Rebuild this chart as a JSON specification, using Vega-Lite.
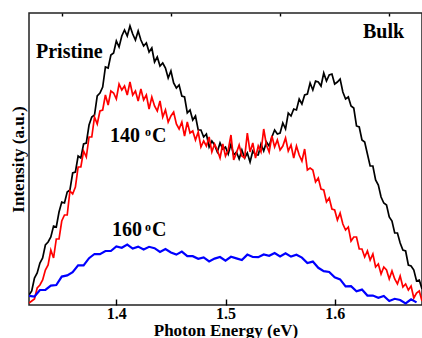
{
  "$schema": "https://vega.github.io/schema/vega-lite/v6.json",
  "width": 393,
  "height": 292,
  "autosize": {"type": "none"},
  "padding": {"left": 29, "top": 13, "right": 0, "bottom": 33},
  "background": "white",
  "config": {"view": {"stroke": "#222", "strokeWidth": 1.5}},
  "resolve": {"axis": {"x": "independent"}},
  "encoding": {
    "x": {"field": "x", "type": "quantitative",
      "scale": {"domain": [1.32, 1.68], "nice": false, "zero": false},
      "axis": {"values": [1.4, 1.5, 1.6], "format": ".1f", "zindex": 2, "offset": -6,
        "tickSize": 6, "tickColor": "#000", "tickWidth": 1.4, "domain": false, "grid": false,
        "labelFont": "'Liberation Serif', 'Times New Roman', serif", "labelFontWeight": "bold", "labelFontSize": 16, "labelColor": "#000", "labelPadding": 0,
        "title": "Photon Energy (eV)", "titleFont": "'Liberation Serif', 'Times New Roman', serif", "titleFontWeight": "bold", "titleFontSize": 17, "titleColor": "#000",
        "titleY": 36, "titleBaseline": "alphabetic"}},
    "y": {"field": "y", "type": "quantitative",
      "scale": {"domain": [0, 292], "nice": false, "zero": false},
      "axis": {"labels": false, "ticks": false, "domain": false, "grid": false,
        "title": "Intensity (a.u.)", "titleFont": "'Liberation Serif', 'Times New Roman', serif", "titleFontWeight": "bold", "titleFontSize": 17, "titleColor": "#000", "titlePadding": 2}}
  },
  "layer": [
    {"mark": {"type": "line", "color": "#000000", "strokeWidth": 1.7, "clip": true},
     "data": {"values": [
{"x":1.32,"y":10},{"x":1.3225,"y":14},{"x":1.325,"y":27},{"x":1.3275,"y":32},{"x":1.33,"y":42},{"x":1.3325,"y":47},{"x":1.335,"y":60},{"x":1.3375,"y":63},{"x":1.34,"y":68},{"x":1.3425,"y":79},
{"x":1.345,"y":78},{"x":1.3475,"y":93},{"x":1.35,"y":103},{"x":1.3525,"y":102},{"x":1.355,"y":113},{"x":1.3575,"y":115},{"x":1.36,"y":132},{"x":1.3625,"y":133},{"x":1.365,"y":149},{"x":1.3675,"y":147},
{"x":1.37,"y":161},{"x":1.3725,"y":162},{"x":1.375,"y":180},{"x":1.3775,"y":188},{"x":1.38,"y":190},{"x":1.3825,"y":209},{"x":1.385,"y":212},{"x":1.3875,"y":218},{"x":1.39,"y":238},{"x":1.3925,"y":237},
{"x":1.395,"y":250},{"x":1.3975,"y":252},{"x":1.4,"y":264},{"x":1.4025,"y":258},{"x":1.405,"y":269},{"x":1.4075,"y":275},{"x":1.41,"y":269},{"x":1.4125,"y":279},{"x":1.415,"y":271},{"x":1.4175,"y":265},
{"x":1.42,"y":274},{"x":1.4225,"y":265},{"x":1.425,"y":259},{"x":1.4275,"y":262},{"x":1.43,"y":253},{"x":1.4325,"y":257},{"x":1.435,"y":243},{"x":1.4375,"y":248},{"x":1.44,"y":239},{"x":1.4425,"y":242},
{"x":1.445,"y":237},{"x":1.4475,"y":227},{"x":1.45,"y":234},{"x":1.4525,"y":222},{"x":1.455,"y":217},{"x":1.4575,"y":220},{"x":1.46,"y":209},{"x":1.4625,"y":208},{"x":1.465,"y":192},{"x":1.4675,"y":195},
{"x":1.47,"y":185},{"x":1.4725,"y":189},{"x":1.475,"y":175},{"x":1.4775,"y":175},{"x":1.48,"y":168},{"x":1.4825,"y":171},{"x":1.485,"y":158},{"x":1.4875,"y":164},{"x":1.49,"y":160},{"x":1.4925,"y":153},
{"x":1.495,"y":162},{"x":1.4975,"y":156},{"x":1.5,"y":158},{"x":1.5025,"y":151},{"x":1.505,"y":161},{"x":1.5075,"y":150},{"x":1.51,"y":153},{"x":1.5125,"y":146},{"x":1.515,"y":155},{"x":1.5175,"y":147},
{"x":1.52,"y":152},{"x":1.5225,"y":143},{"x":1.525,"y":154},{"x":1.5275,"y":150},{"x":1.53,"y":150},{"x":1.5325,"y":161},{"x":1.535,"y":154},{"x":1.5375,"y":163},{"x":1.54,"y":159},{"x":1.5425,"y":168},
{"x":1.545,"y":175},{"x":1.5475,"y":171},{"x":1.55,"y":172},{"x":1.5525,"y":182},{"x":1.555,"y":176},{"x":1.5575,"y":192},{"x":1.56,"y":189},{"x":1.5625,"y":196},{"x":1.565,"y":195},{"x":1.5675,"y":206},
{"x":1.57,"y":201},{"x":1.5725,"y":210},{"x":1.575,"y":211},{"x":1.5775,"y":222},{"x":1.58,"y":215},{"x":1.5825,"y":224},{"x":1.585,"y":223},{"x":1.5875,"y":219},{"x":1.59,"y":232},{"x":1.5925,"y":224},
{"x":1.595,"y":230},{"x":1.5975,"y":231},{"x":1.6,"y":221},{"x":1.6025,"y":223},{"x":1.605,"y":226},{"x":1.6075,"y":213},{"x":1.61,"y":206},{"x":1.6125,"y":208},{"x":1.615,"y":199},{"x":1.6175,"y":197},
{"x":1.62,"y":179},{"x":1.6225,"y":178},{"x":1.625,"y":165},{"x":1.6275,"y":163},{"x":1.63,"y":151},{"x":1.6325,"y":139},{"x":1.635,"y":139},{"x":1.6375,"y":125},{"x":1.64,"y":120},{"x":1.6425,"y":108},
{"x":1.645,"y":102},{"x":1.6475,"y":100},{"x":1.65,"y":88},{"x":1.6525,"y":84},{"x":1.655,"y":72},{"x":1.6575,"y":72},{"x":1.66,"y":62},{"x":1.6625,"y":55},{"x":1.665,"y":54},{"x":1.6675,"y":40},
{"x":1.67,"y":39},{"x":1.6725,"y":35},{"x":1.675,"y":24},{"x":1.6775,"y":25},{"x":1.68,"y":16}
     ]}},
    {"mark": {"type": "line", "color": "#ff0000", "strokeWidth": 1.7, "clip": true},
     "encoding": {"x": {"field": "x", "type": "quantitative",
        "axis": {"values": [1.35, 1.45, 1.55, 1.65], "labels": false, "zindex": 2, "offset": -3, "tickSize": 3, "tickColor": "#000", "tickWidth": 1.4, "domain": false, "grid": false, "title": null}}},
     "data": {"values": [
{"x":1.32,"y":2},{"x":1.3225,"y":4},{"x":1.325,"y":6},{"x":1.3275,"y":17},{"x":1.33,"y":20},{"x":1.3325,"y":25},{"x":1.335,"y":35},{"x":1.3375,"y":40},{"x":1.34,"y":55},{"x":1.3425,"y":47},
{"x":1.345,"y":66},{"x":1.3475,"y":66},{"x":1.35,"y":84},{"x":1.3525,"y":90},{"x":1.355,"y":90},{"x":1.3575,"y":114},{"x":1.36,"y":111},{"x":1.3625,"y":118},{"x":1.365,"y":138},{"x":1.3675,"y":138},
{"x":1.37,"y":154},{"x":1.3725,"y":148},{"x":1.375,"y":168},{"x":1.3775,"y":168},{"x":1.38,"y":188},{"x":1.3825,"y":181},{"x":1.385,"y":194},{"x":1.3875,"y":195},{"x":1.39,"y":210},{"x":1.3925,"y":200},
{"x":1.395,"y":214},{"x":1.3975,"y":212},{"x":1.4,"y":206},{"x":1.4025,"y":221},{"x":1.405,"y":215},{"x":1.4075,"y":219},{"x":1.41,"y":210},{"x":1.4125,"y":223},{"x":1.415,"y":210},{"x":1.4175,"y":214},
{"x":1.42,"y":204},{"x":1.4225,"y":216},{"x":1.425,"y":205},{"x":1.4275,"y":210},{"x":1.43,"y":196},{"x":1.4325,"y":208},{"x":1.435,"y":199},{"x":1.4375,"y":194},{"x":1.44,"y":204},{"x":1.4425,"y":188},
{"x":1.445,"y":195},{"x":1.4475,"y":183},{"x":1.45,"y":189},{"x":1.4525,"y":193},{"x":1.455,"y":181},{"x":1.4575,"y":176},{"x":1.46,"y":183},{"x":1.4625,"y":169},{"x":1.465,"y":183},{"x":1.4675,"y":172},
{"x":1.47,"y":174},{"x":1.4725,"y":165},{"x":1.475,"y":173},{"x":1.4775,"y":158},{"x":1.48,"y":164},{"x":1.4825,"y":159},{"x":1.485,"y":168},{"x":1.4875,"y":153},{"x":1.49,"y":161},{"x":1.4925,"y":155},
{"x":1.495,"y":147},{"x":1.4975,"y":161},{"x":1.5,"y":149},{"x":1.5025,"y":155},{"x":1.505,"y":170},{"x":1.5075,"y":145},{"x":1.51,"y":152},{"x":1.5125,"y":160},{"x":1.515,"y":149},{"x":1.5175,"y":147},
{"x":1.52,"y":172},{"x":1.5225,"y":153},{"x":1.525,"y":162},{"x":1.5275,"y":147},{"x":1.53,"y":159},{"x":1.5325,"y":153},{"x":1.535,"y":176},{"x":1.5375,"y":160},{"x":1.54,"y":153},{"x":1.5425,"y":169},
{"x":1.545,"y":158},{"x":1.5475,"y":165},{"x":1.55,"y":155},{"x":1.5525,"y":159},{"x":1.555,"y":167},{"x":1.5575,"y":154},{"x":1.56,"y":160},{"x":1.5625,"y":147},{"x":1.565,"y":159},{"x":1.5675,"y":150},
{"x":1.57,"y":144},{"x":1.5725,"y":156},{"x":1.575,"y":135},{"x":1.5775,"y":137},{"x":1.58,"y":135},{"x":1.5825,"y":123},{"x":1.585,"y":127},{"x":1.5875,"y":116},{"x":1.59,"y":115},{"x":1.5925,"y":103},
{"x":1.595,"y":107},{"x":1.5975,"y":96},{"x":1.6,"y":95},{"x":1.6025,"y":85},{"x":1.605,"y":92},{"x":1.6075,"y":81},{"x":1.61,"y":75},{"x":1.6125,"y":78},{"x":1.615,"y":64},{"x":1.6175,"y":68},
{"x":1.62,"y":68},{"x":1.6225,"y":56},{"x":1.625,"y":56},{"x":1.6275,"y":48},{"x":1.63,"y":54},{"x":1.6325,"y":45},{"x":1.635,"y":51},{"x":1.6375,"y":38},{"x":1.64,"y":41},{"x":1.6425,"y":31},
{"x":1.645,"y":38},{"x":1.6475,"y":35},{"x":1.65,"y":26},{"x":1.6525,"y":34},{"x":1.655,"y":26},{"x":1.6575,"y":21},{"x":1.66,"y":29},{"x":1.6625,"y":18},{"x":1.665,"y":21},{"x":1.6675,"y":15},
{"x":1.67,"y":19},{"x":1.6725,"y":7},{"x":1.675,"y":12},{"x":1.6775,"y":14},{"x":1.68,"y":4}
     ]}},
    {"mark": {"type": "line", "color": "#0000ff", "strokeWidth": 2.2, "clip": true},
     "encoding": {"x": {"field": "x", "type": "quantitative", "axis": null}},
     "data": {"values": [
{"x":1.32,"y":9.2},{"x":1.325,"y":8.4},{"x":1.33,"y":15},{"x":1.335,"y":15.2},{"x":1.34,"y":19.4},{"x":1.345,"y":20},{"x":1.35,"y":28.4},{"x":1.355,"y":29.6},{"x":1.36,"y":32.8},{"x":1.365,"y":39.6},
{"x":1.37,"y":39.6},{"x":1.375,"y":46.8},{"x":1.38,"y":51},{"x":1.385,"y":50.8},{"x":1.39,"y":54},{"x":1.395,"y":54},{"x":1.4,"y":58.6},{"x":1.405,"y":57.2},{"x":1.41,"y":60.4},{"x":1.415,"y":56.4},
{"x":1.42,"y":58.4},{"x":1.425,"y":55.6},{"x":1.43,"y":58.2},{"x":1.435,"y":56.8},{"x":1.44,"y":53},{"x":1.445,"y":56},{"x":1.45,"y":52.6},{"x":1.455,"y":50.4},{"x":1.46,"y":53.4},{"x":1.465,"y":48.8},
{"x":1.47,"y":48.8},{"x":1.475,"y":46.2},{"x":1.48,"y":47.6},{"x":1.485,"y":43.6},{"x":1.49,"y":46.4},{"x":1.495,"y":48},{"x":1.5,"y":44.4},{"x":1.505,"y":48.2},{"x":1.51,"y":46.6},{"x":1.515,"y":45},
{"x":1.52,"y":50.4},{"x":1.525,"y":48},{"x":1.53,"y":47.8},{"x":1.535,"y":50.6},{"x":1.54,"y":49.2},{"x":1.545,"y":52},{"x":1.55,"y":48.6},{"x":1.555,"y":51.8},{"x":1.56,"y":48.4},{"x":1.565,"y":50.2},
{"x":1.57,"y":47.4},{"x":1.575,"y":42},{"x":1.58,"y":43.4},{"x":1.585,"y":37.2},{"x":1.59,"y":33.8},{"x":1.595,"y":33},{"x":1.6,"y":27.6},{"x":1.605,"y":25.6},{"x":1.61,"y":18.6},{"x":1.615,"y":18.8},
{"x":1.62,"y":13.8},{"x":1.625,"y":15.4},{"x":1.63,"y":9.4},{"x":1.635,"y":9.4},{"x":1.64,"y":7.2},{"x":1.645,"y":9},{"x":1.65,"y":4},{"x":1.655,"y":6.2},{"x":1.66,"y":5},{"x":1.665,"y":1.6},
{"x":1.67,"y":5.6},{"x":1.675,"y":2.6}
     ]}},
    {"mark": {"type": "text", "font": "'Liberation Serif', 'Times New Roman', serif", "fontWeight": "bold", "fontSize": 20, "align": "left", "baseline": "alphabetic", "color": "#000"},
     "data": {"values": [
{"t":"Pristine","x":1.3264,"y":247},
{"t":"140","x":1.3942,"y":163},
{"t":"C","x":1.4327,"y":163},
{"t":"160","x":1.396,"y":69},
{"t":"C","x":1.4327,"y":69},
{"t":"Bulk","x":1.6259,"y":267}
     ]},
     "encoding": {"x": {"field": "x", "type": "quantitative", "axis": null}, "text": {"field": "t"}}},
    {"mark": {"type": "text", "font": "'Liberation Serif', 'Times New Roman', serif", "fontWeight": "bold", "fontSize": 12, "align": "left", "baseline": "alphabetic", "color": "#000"},
     "data": {"values": [
{"t":"o","x":1.4263,"y":169},
{"t":"o","x":1.4263,"y":74}
     ]},
     "encoding": {"x": {"field": "x", "type": "quantitative", "axis": null}, "text": {"field": "t"}}}
  ]
}
